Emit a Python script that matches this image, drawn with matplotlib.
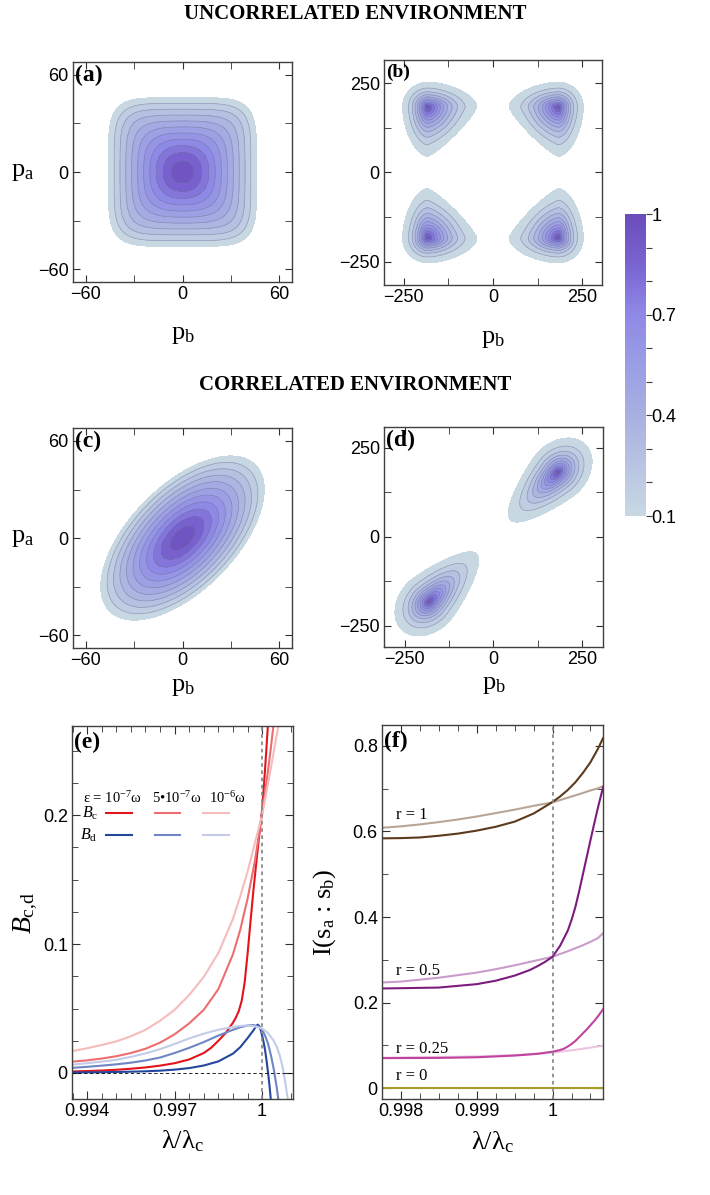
import numpy as np
import matplotlib
matplotlib.use('Agg')
import matplotlib.pyplot as plt
from matplotlib.colors import LinearSegmentedColormap, Normalize
from matplotlib.cm import ScalarMappable

plt.rcParams['font.family'] = 'Liberation Sans'
plt.rcParams['mathtext.fontset'] = 'custom'
plt.rcParams['mathtext.rm'] = 'Liberation Serif'
plt.rcParams['mathtext.it'] = 'Liberation Serif:italic'
plt.rcParams['mathtext.bf'] = 'Liberation Serif:bold'

SERIF = 'Liberation Serif'

# colour scale of the density panels
cbar_vals = [0.1, 0.25, 0.4, 0.55, 0.7, 0.85, 1.0]
cbar_cols = ['#c8d8e2', '#b8c4e2', '#a8b0e1', '#9b9ee4', '#8f89e6', '#7a64d2', '#6a4cba']
cbar_ticks = [0.1, 0.2, 0.3, 0.4, 0.5, 0.6, 0.7, 0.8, 0.9, 1.0]
cbar_labels = ['0.1', '', '', '0.4', '', '', '0.7', '', '', '1']
levels = np.linspace(0.1, 0.95, 11)

# shape of the single peak, panels (a) and (c)
a_edge = 46.0              # half width of the 0.1 contour
c_major, c_minor = 64.0, 32.5
core = 0.22

# lobes of panels (b) and (d)
b_centres = [(-183, 183), (183, 183), (-183, -183), (183, -183)]
b_out, b_in = 70.0, 138.0
d_centres = [(182, 182), (-182, -182)]
d_out, d_in, d_w, d_taper = 110.0, 190.0, 80.0, 0.3
lobe_q = 1.15

# panel (e): B_c and B_d for three epsilon values
e_labels = ['ε = 10$^{-7}$ω', '5•10$^{-7}$ω', '10$^{-6}$ω']
bc_x = [
    [0.9935, 0.994, 0.9945, 0.995, 0.9955, 0.996, 0.9965, 0.997, 0.9975, 0.998, 0.99825,
     0.9985, 0.99875, 0.999, 0.9991, 0.9992, 0.9993, 0.9994, 0.9995, 0.9996, 0.9997,
     0.9998, 0.9999, 1.0, 1.0001, 1.0002],
    [0.9935, 0.994, 0.9945, 0.995, 0.9955, 0.996, 0.9965, 0.997, 0.9975, 0.998, 0.9985,
     0.999, 0.99925, 0.9995, 0.99975, 1.0, 1.0001, 1.0002, 1.0003, 1.0004],
    [0.9935, 0.994, 0.9945, 0.995, 0.9955, 0.996, 0.9965, 0.997, 0.9975, 0.998, 0.9985,
     0.999, 0.99925, 0.9995, 0.99975, 1.0, 1.00025, 1.0005, 1.00058],
]
bc_y = [
    [0.0012, 0.0015, 0.0019, 0.0025, 0.0033, 0.0043, 0.0057, 0.0076, 0.0105, 0.0155, 0.0195,
     0.025, 0.031, 0.039, 0.043, 0.048, 0.056, 0.070, 0.092, 0.117, 0.141,
     0.163, 0.184, 0.204, 0.235, 0.27],
    [0.0088, 0.0098, 0.0112, 0.0130, 0.0155, 0.0188, 0.0235, 0.0300, 0.0385, 0.0490, 0.0650,
     0.0920, 0.1110, 0.1350, 0.1640, 0.2010, 0.217, 0.234, 0.252, 0.272],
    [0.017, 0.0192, 0.0217, 0.0245, 0.0285, 0.0335, 0.0405, 0.049, 0.0605, 0.0745, 0.093,
     0.1195, 0.137, 0.156, 0.178, 0.200, 0.230, 0.262, 0.272],
]
bd_x = [
    [0.9935, 0.994, 0.9945, 0.995, 0.9955, 0.996, 0.9965, 0.997, 0.9975, 0.998, 0.9985,
     0.999, 0.99925, 0.9995, 0.9997, 0.9998, 0.99985, 0.9999, 0.99995, 1.0, 1.00005,
     1.0001, 1.00015, 1.0002, 1.00025, 1.0003],
    [0.9935, 0.994, 0.9945, 0.995, 0.9955, 0.996, 0.9965, 0.997, 0.9975, 0.998, 0.9985,
     0.999, 0.99925, 0.9995, 0.9997, 0.9999, 1.0, 1.0001, 1.0002, 1.0003, 1.0004,
     1.0005, 1.00056],
    [0.9935, 0.994, 0.9945, 0.995, 0.9955, 0.996, 0.9965, 0.997, 0.9975, 0.998, 0.9985,
     0.999, 0.9993, 0.9995, 0.9997, 1.0, 1.0002, 1.0004, 1.0005, 1.0006, 1.0007,
     1.0008, 1.00085, 1.00089],
]
bd_y = [
    [0.0004, 0.0005, 0.0006, 0.0008, 0.0010, 0.0013, 0.0018, 0.0026, 0.0038, 0.0058, 0.0090,
     0.0150, 0.020, 0.027, 0.033, 0.0365, 0.0375, 0.0365, 0.0335, 0.029, 0.024,
     0.018, 0.010, 0.001, -0.009, -0.021],
    [0.004, 0.0048, 0.0057, 0.0067, 0.0080, 0.0097, 0.0120, 0.0155, 0.0195, 0.0240, 0.0290,
     0.0335, 0.0355, 0.0368, 0.0372, 0.0358, 0.0335, 0.029, 0.023, 0.014, 0.003,
     -0.011, -0.021],
    [0.0065, 0.0076, 0.0088, 0.0102, 0.0125, 0.0152, 0.0185, 0.0225, 0.0268, 0.0305, 0.0335,
     0.0357, 0.0366, 0.0368, 0.0364, 0.0345, 0.031, 0.025, 0.0205, 0.014, 0.005,
     -0.008, -0.016, -0.021],
]
bc_cols = ['#e3141c', '#ec6e70', '#f6bcbd']
bd_cols = ['#24469c', '#6f85c4', '#c3cbe9']

# panel (f): mutual information for four squeezing values
f_names = ['r = 1', 'r = 0.5', 'r = 0.25', 'r = 0']
f_label_y = [0.638, 0.274, 0.091, 0.029]
f_dark_x = [
    [0.99777, 0.998, 0.99825, 0.9985, 0.99875, 0.999, 0.99925, 0.9995, 0.99975, 1.0, 1.0001,
     1.0002, 1.0003, 1.0004, 1.0005, 1.0006, 1.000665],
    [0.99777, 0.998, 0.9985, 0.999, 0.99925, 0.9995, 0.9997, 0.9998, 0.9999, 1.0, 1.0001,
     1.0002, 1.00025, 1.0003, 1.00035, 1.0004, 1.00045, 1.0005, 1.00055, 1.0006, 1.000665],
    [0.99777, 0.9985, 0.999, 0.9995, 0.9998, 1.0, 1.0001, 1.00015, 1.0002, 1.00025, 1.0003,
     1.00035, 1.0004, 1.00045, 1.0005, 1.00055, 1.0006, 1.000665],
    [0.99777, 1.000665],
]
f_dark_y = [
    [0.584, 0.5845, 0.586, 0.590, 0.595, 0.602, 0.611, 0.623, 0.642, 0.669, 0.682,
     0.697, 0.715, 0.737, 0.762, 0.794, 0.818],
    [0.233, 0.2335, 0.235, 0.243, 0.251, 0.263, 0.276, 0.285, 0.295, 0.307, 0.333,
     0.368, 0.393, 0.423, 0.460, 0.500, 0.540, 0.580, 0.619, 0.657, 0.703],
    [0.070, 0.0705, 0.072, 0.076, 0.080, 0.085, 0.089, 0.092, 0.097, 0.103, 0.110,
     0.119, 0.128, 0.137, 0.147, 0.157, 0.168, 0.184],
    [0.0, 0.0],
]
f_light_x = [
    [0.99777, 0.998, 0.99825, 0.9985, 0.99875, 0.999, 0.99925, 0.9995, 0.99975, 1.0,
     1.0002, 1.0004, 1.0005, 1.0006, 1.000665],
    [0.99777, 0.998, 0.99825, 0.9985, 0.99875, 0.999, 0.99925, 0.9995, 0.99975, 1.0,
     1.0002, 1.0004, 1.0005, 1.0006, 1.000665],
    [0.99777, 0.9985, 0.999, 0.9995, 1.0, 1.0002, 1.0004, 1.000665],
    [0.99777, 1.000665],
]
f_light_y = [
    [0.609, 0.612, 0.6165, 0.622, 0.628, 0.635, 0.643, 0.651, 0.660, 0.668,
     0.679, 0.690, 0.696, 0.701, 0.706],
    [0.247, 0.249, 0.2535, 0.258, 0.264, 0.270, 0.278, 0.287, 0.297, 0.307,
     0.320, 0.334, 0.342, 0.351, 0.362],
    [0.071, 0.0725, 0.074, 0.077, 0.083, 0.087, 0.092, 0.099],
    [0.0, 0.0],
]
f_dark_cols = ['#5c3a1c', '#7c1c7e', '#c0449f', '#a59c2c']
f_light_cols = ['#b8a596', '#c99ccb', '#ecc4e2', '#d8d070']

cmap = LinearSegmentedColormap.from_list(
    'dens', [((v - 0.1) / 0.9, c) for v, c in zip(cbar_vals, cbar_cols)])
norm = Normalize(0.1, 1.0)


def profile(s):
    return 1 - 0.9 * (np.sqrt(s**2 + core**2) - core) / (np.sqrt(1 + core**2) - core)


def lobe(s):
    return np.exp(-np.log(10) * s**lobe_q)


# fields for the four density panels
g = np.linspace(-70, 70, 501)
X, Y = np.meshgrid(g, g)
r = np.hypot(X, Y)
p = 2 + 3.0 * np.minimum(1, (r / a_edge)**2)
Za = profile((np.abs(X)**p + np.abs(Y)**p)**(1 / p) / a_edge)
Zc = profile(np.hypot((X + Y) / np.sqrt(2) / c_major, (Y - X) / np.sqrt(2) / c_minor))

G = np.linspace(-330, 330, 661)
XX, YY = np.meshgrid(G, G)
Zb = np.zeros_like(XX)
for cx, cy in b_centres:
    u = (XX - cx) * np.sign(cx)
    v = (YY - cy) * np.sign(cy)
    du = np.where(u > 0, u / b_out, -u / b_in)
    dv = np.where(v > 0, v / b_out, -v / b_in)
    inner = (u < 0).astype(int) + (v < 0).astype(int)
    pq = np.choose(inner, [2.0, 1.75, 1.2])
    w = np.clip(np.hypot(du, dv) / 0.8, 0, 1)
    pp = 2 + (pq - 2) * w
    Zb = np.maximum(Zb, lobe((du**pp + dv**pp)**(1 / pp)))

Zd = np.zeros_like(XX)
for cx, cy in d_centres:
    sg = np.sign(cx)
    t = sg * ((XX - cx) + (YY - cy)) / np.sqrt(2)
    n = ((YY - cy) - (XX - cx)) / np.sqrt(2)
    dt = np.where(t > 0, t / d_out, -t / d_in)
    wf = np.clip(1 + d_taper * np.minimum(t, 0) / d_in, 0.4, 1)
    dn = np.abs(n) / (d_w * wf)
    Zd = np.maximum(Zd, lobe(np.hypot(dt, dn)))

fig = plt.figure(figsize=(7.1, 11.95), dpi=100)
fig.patch.set_facecolor('white')


def frame(ax):
    for sp in ax.spines.values():
        sp.set_color('#404040')
        sp.set_linewidth(1.0)
    ax.tick_params(which='both', direction='in', top=True, right=True,
                   color='#303030', labelsize=13, pad=3)


def density(rect, X, Y, Z, lim, ticks, labels, minor, tag, tagsize):
    ax = fig.add_axes(rect)
    cols = [cmap(norm(l)) for l in levels]
    ax.contourf(X, Y, Z, levels=list(levels) + [1.01], colors=cols)
    ax.contour(X, Y, Z, levels=levels[1:], colors='#6a7590', linewidths=0.5, alpha=0.55)
    ax.set_xlim(-lim[0], lim[0])
    ax.set_ylim(-lim[1], lim[1])
    ax.set_xticks(ticks, labels)
    ax.set_yticks(ticks, labels)
    ax.set_xticks(minor, minor=True)
    ax.set_yticks(minor, minor=True)
    frame(ax)
    ax.tick_params(which='both', length=5)
    ax.text(0.01, 0.985, tag, transform=ax.transAxes, ha='left', va='top',
            family=SERIF, weight='bold', fontsize=tagsize)
    return ax


lab_a = ['\u221260', '0', '60']
lab_b = ['\u2212250', '0', '250']
ax_a = density([0.1028, 0.7640, 0.3085, 0.1841], X, Y, Za, (68, 68), [-60, 0, 60], lab_a,
               [-30, 30], '(a)', 17)
ax_b = density([0.5408, 0.7615, 0.3070, 0.1883], XX, YY, Zb, (305, 315), [-250, 0, 250], lab_b,
               [-125, 125], '(b)', 14)
ax_c = density([0.1028, 0.4577, 0.3085, 0.1841], X, Y, Zc, (68, 68), [-60, 0, 60], lab_a,
               [-30, 30], '(c)', 17)
ax_d = density([0.5408, 0.4586, 0.3085, 0.1841], XX, YY, Zd, (309, 309), [-250, 0, 250], lab_b,
               [-125, 125], '(d)', 17)

for ax in (ax_a, ax_c):
    ax.set_ylabel('p$_\\mathrm{a}$', family=SERIF, fontsize=19, rotation=0, va='center', ha='center')
    ax.yaxis.set_label_coords(-0.23, 0.5)
for ax, yl in ((ax_a, -0.19), (ax_b, -0.19), (ax_c, -0.125), (ax_d, -0.125)):
    ax.set_xlabel('p$_\\mathrm{b}$', family=SERIF, fontsize=19)
    ax.xaxis.set_label_coords(0.5, yl)

fig.text(0.5, 0.988, 'UNCORRELATED ENVIRONMENT', ha='center', va='center',
         family=SERIF, weight='bold', fontsize=15)
fig.text(0.5, 0.678, 'CORRELATED ENVIRONMENT', ha='center', va='center',
         family=SERIF, weight='bold', fontsize=15)

# colour bar
cax = fig.add_axes([0.8803, 0.5682, 0.0296, 0.2527])
cb = fig.colorbar(ScalarMappable(norm=norm, cmap=cmap), cax=cax, ticks=cbar_ticks)
cb.ax.set_yticklabels(cbar_labels)
cb.outline.set_visible(False)
cb.ax.tick_params(direction='out', length=4, width=0.8, color='#404040', pad=0, labelsize=13)

# panel (e)
ax_e = fig.add_axes([0.1014, 0.0803, 0.3113, 0.3121])
for xs, ys, c in zip(bc_x, bc_y, bc_cols):
    ax_e.plot(xs, ys, color=c, lw=1.5)
for xs, ys, c in zip(bd_x, bd_y, bd_cols):
    ax_e.plot(xs, ys, color=c, lw=1.5)
ax_e.axvline(1.0, color='#8a8a8a', lw=1.3, ls=(0, (2, 2)))
ax_e.axhline(0.0, color='black', lw=0.6, ls=(0, (4, 3)))
ax_e.set_xlim(0.99348, 1.00106)
ax_e.set_ylim(-0.0202, 0.269)
ax_e.set_xticks([0.994, 0.997, 1.0], ['0.994', '0.997', '1'])
ax_e.set_xticks(np.arange(0.9935, 1.00101, 0.0005), minor=True)
ax_e.set_yticks([0.0, 0.1, 0.2], ['0', '0.1', '0.2'])
ax_e.set_yticks(np.arange(-0.0, 0.2501, 0.025), minor=True)
frame(ax_e)
ax_e.tick_params(which='major', length=6)
ax_e.tick_params(which='minor', length=4)
ax_e.text(0.01, 0.985, '(e)', transform=ax_e.transAxes, ha='left', va='top',
          family=SERIF, weight='bold', fontsize=17)
ax_e.set_ylabel('$B_{\\mathrm{c,\\!d}}$', fontsize=20)
ax_e.yaxis.set_label_coords(-0.145, 0.5)
ax_e.set_xlabel('λ/λ$_\\mathrm{c}$', family=SERIF, fontsize=19)
ax_e.xaxis.set_label_coords(0.5, -0.08)
for xl, txt in zip([0.05, 0.362, 0.62], e_labels):
    ax_e.text(xl, 0.807, txt, transform=ax_e.transAxes, ha='left', va='center',
              family=SERIF, fontsize=10.5)
ax_e.text(0.045, 0.767, '$B_\\mathrm{c}$', transform=ax_e.transAxes, ha='left', va='center', fontsize=11.5)
ax_e.text(0.036, 0.708, '$B_\\mathrm{d}$', transform=ax_e.transAxes, ha='left', va='center', fontsize=11.5)
for x0, x1, c1, c2 in zip([0.154, 0.376, 0.593], [0.271, 0.489, 0.710], bc_cols, bd_cols):
    ax_e.plot([x0, x1], [0.767, 0.767], color=c1, lw=1.5, transform=ax_e.transAxes)
    ax_e.plot([x0, x1], [0.708, 0.708], color=c2, lw=1.5, transform=ax_e.transAxes)

# panel (f)
ax_f = fig.add_axes([0.5380, 0.0803, 0.3113, 0.3130])
for xs, ys, c in zip(f_light_x, f_light_y, f_light_cols):
    ax_f.plot(xs, ys, color=c, lw=1.5)
for xs, ys, c in zip(f_dark_x, f_dark_y, f_dark_cols):
    ax_f.plot(xs, ys, color=c, lw=1.5)
ax_f.axvline(1.0, color='#8a8a8a', lw=1.3, ls=(0, (2, 2)))
ax_f.set_xlim(0.99777, 1.000665)
ax_f.set_ylim(-0.0257, 0.849)
ax_f.set_xticks([0.998, 0.999, 1.0], ['0.998', '0.999', '1'])
ax_f.set_xticks(np.arange(0.99775, 1.00067, 0.00025), minor=True)
ax_f.set_yticks([0.0, 0.2, 0.4, 0.6, 0.8], ['0', '0.2', '0.4', '0.6', '0.8'])
ax_f.set_yticks([0.1, 0.3, 0.5, 0.7], minor=True)
frame(ax_f)
ax_f.tick_params(which='major', length=6)
ax_f.tick_params(which='minor', length=4)
ax_f.text(0.01, 0.985, '(f)', transform=ax_f.transAxes, ha='left', va='top',
          family=SERIF, weight='bold', fontsize=17)
ax_f.set_ylabel('I(s$_\\mathrm{a}$ : s$_\\mathrm{b}$)', family=SERIF, fontsize=19)
ax_f.yaxis.set_label_coords(-0.20, 0.5)
ax_f.set_xlabel('λ/λ$_\\mathrm{c}$', family=SERIF, fontsize=19)
ax_f.xaxis.set_label_coords(0.5, -0.08)
for yl, txt in zip(f_label_y, f_names):
    ax_f.text(0.99794, yl, txt, ha='left', va='center', family=SERIF, fontsize=12)

fig.savefig('out.png', dpi=100, facecolor='white')
